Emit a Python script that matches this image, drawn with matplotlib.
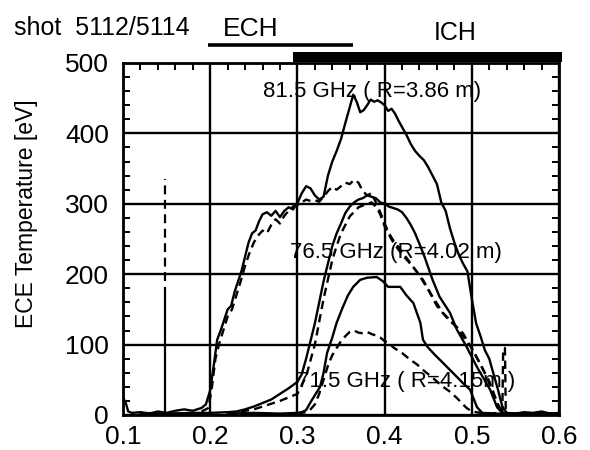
import matplotlib
matplotlib.use('Agg')
import matplotlib.pyplot as plt
from matplotlib.ticker import MultipleLocator
from matplotlib.patches import Rectangle

plt.rcParams['font.family'] = ['Liberation Sans', 'DejaVu Sans']

# ---------------- data (time [s], ECE temperature [eV]) ----------------
# 81.5 GHz, shot 5112 (solid)
t_a = [0.100, 0.103, 0.106, 0.110, 0.120, 0.130, 0.140, 0.150, 0.160, 0.170, 0.180, 0.190,
       0.195, 0.200, 0.204, 0.208, 0.212, 0.216, 0.220, 0.224, 0.228, 0.232, 0.236, 0.240,
       0.244, 0.248, 0.252, 0.256, 0.260, 0.265, 0.270, 0.275, 0.280, 0.285, 0.290, 0.295,
       0.300, 0.305, 0.310, 0.315, 0.320, 0.325, 0.330, 0.335, 0.340, 0.345, 0.350, 0.355,
       0.360, 0.364, 0.368, 0.372, 0.376, 0.380, 0.384, 0.388, 0.392, 0.396, 0.400, 0.404,
       0.408, 0.412, 0.416, 0.420, 0.425, 0.430, 0.435, 0.440, 0.445, 0.450, 0.455, 0.460,
       0.465, 0.470, 0.475, 0.480, 0.485, 0.490, 0.495, 0.500, 0.505, 0.510, 0.515, 0.520,
       0.525, 0.530, 0.535, 0.540, 0.550, 0.560, 0.570, 0.580, 0.590, 0.600]
v_a = [25, 18, 5, 3, 4, 2, 5, 3, 6, 8, 6, 10,
       15, 35, 70, 107, 120, 135, 150, 155, 175, 190, 205, 225,
       245, 258, 262, 275, 285, 288, 283, 290, 281, 290, 295, 292,
       301, 315, 325, 322, 312, 306, 310, 340, 360, 375, 392, 415,
       437, 455, 445, 430, 433, 440, 448, 445, 447, 444, 440, 432,
       435, 428, 418, 409, 398, 385, 375, 368, 362, 352, 340, 328,
       302, 290, 265, 245, 228, 215, 204, 165, 130, 112, 92, 80,
       58, 36, 12, 3, 2, 4, 3, 5, 2, 3]

# 81.5 GHz, shot 5114 (dashed)
t_b = [0.190, 0.198, 0.202, 0.206, 0.210, 0.215, 0.220, 0.225, 0.230, 0.235, 0.240, 0.245,
       0.250, 0.255, 0.260, 0.265, 0.270, 0.275, 0.280, 0.285, 0.290, 0.295, 0.300, 0.305,
       0.310, 0.315, 0.320, 0.325, 0.330, 0.335, 0.340, 0.345, 0.350, 0.355, 0.360, 0.365,
       0.370, 0.375, 0.380, 0.385, 0.390, 0.395, 0.400, 0.405, 0.410, 0.420, 0.430, 0.440,
       0.450, 0.460, 0.470, 0.480, 0.490, 0.500, 0.510, 0.520, 0.530, 0.535, 0.550, 0.600]
v_b = [5, 10, 40, 80, 100, 120, 140, 150, 170, 190, 212, 230,
       245, 255, 262, 258, 270, 278, 272, 283, 290, 296, 298, 302,
       306, 304, 305, 303, 310, 318, 324, 320, 325, 330, 328, 334,
       330, 318, 312, 315, 302, 288, 272, 258, 248, 232, 215, 198,
       178, 155, 140, 128, 112, 95, 72, 48, 15, 3, 2, 2]

# 76.5 GHz, shot 5112 (solid)
t_c = [0.120, 0.150, 0.180, 0.200, 0.220, 0.230, 0.240, 0.250, 0.260, 0.270, 0.280, 0.290,
       0.300, 0.305, 0.310, 0.315, 0.320, 0.325, 0.330, 0.335, 0.340, 0.345, 0.350, 0.355,
       0.360, 0.365, 0.370, 0.375, 0.380, 0.385, 0.390, 0.395, 0.400, 0.405, 0.410, 0.415,
       0.420, 0.425, 0.430, 0.435, 0.440, 0.446, 0.455, 0.463, 0.475, 0.483, 0.494, 0.506,
       0.521, 0.529, 0.535, 0.550, 0.600]
v_c = [3, 2, 3, 3, 4, 5, 8, 12, 17, 22, 30, 38,
       47, 58, 80, 105, 130, 160, 190, 215, 240, 258, 272, 287,
       296, 302, 306, 308, 312, 310, 308, 302, 300, 296, 294, 292,
       288, 280, 270, 258, 243, 224, 192, 168, 145, 121, 97, 68,
       36, 11, 3, 2, 2]

# 76.5 GHz, shot 5114 (dashed)
t_d = [0.220, 0.250, 0.280, 0.300, 0.310, 0.320, 0.330, 0.340, 0.345, 0.350, 0.360, 0.370,
       0.380, 0.385, 0.390, 0.395, 0.400, 0.405, 0.410, 0.420, 0.433, 0.444, 0.455, 0.467,
       0.478, 0.490, 0.501, 0.509, 0.517, 0.529, 0.535, 0.550, 0.600]
v_d = [2, 8, 20, 30, 55, 100, 165, 220, 240, 258, 282, 295,
       300, 302, 296, 285, 268, 256, 245, 228, 210, 192, 168, 145,
       131, 116, 92, 74, 54, 17, 3, 2, 2]

# 71.5 GHz, shot 5112 (solid)
t_e = [0.220, 0.250, 0.280, 0.300, 0.305, 0.310, 0.315, 0.320, 0.326, 0.330, 0.334, 0.340,
       0.345, 0.352, 0.358, 0.364, 0.372, 0.380, 0.391, 0.398, 0.404, 0.418, 0.425, 0.433,
       0.441, 0.444, 0.449, 0.458, 0.467, 0.475, 0.483, 0.490, 0.498, 0.506, 0.512, 0.530,
       0.600]
v_e = [2, 3, 2, 3, 4, 7, 18, 28, 40, 60, 88, 110,
       131, 153, 170, 182, 192, 195, 196, 190, 182, 182, 170, 159,
       131, 107, 97, 85, 74, 64, 54, 45, 36, 11, 3, 2,
       2]

# 71.5 GHz, shot 5114 (dashed)
t_f = [0.300, 0.310, 0.315, 0.320, 0.325, 0.330, 0.335, 0.340, 0.345, 0.350, 0.355, 0.360,
       0.365, 0.370, 0.375, 0.380, 0.385, 0.390, 0.395, 0.400, 0.405, 0.410, 0.415, 0.420,
       0.425, 0.430, 0.437, 0.445, 0.456, 0.465, 0.475, 0.483, 0.490, 0.494, 0.500, 0.510,
       0.520, 0.530, 0.535, 0.536, 0.538, 0.539, 0.550, 0.600]
v_f = [2, 4, 8, 15, 30, 50, 70, 85, 95, 105, 112, 118,
       120, 117, 116, 118, 115, 113, 110, 105, 102, 96, 92, 88,
       83, 78, 72, 63, 52, 42, 33, 24, 15, 10, 5, 3,
       2, 3, 2, 95, 95, 2, 2, 2]

# time marker (dashed upper part, solid lower part)
marker_t = 0.148
marker_dash_range = (190, 335)
marker_solid_range = (0, 180)

# heating periods
ech_period = (0.198, 0.364)
ich_period = (0.295, 0.603)

x_ticks = [0.1, 0.2, 0.3, 0.4, 0.5, 0.6]
x_tick_labels = ['0.1', '0.2', '0.3', '0.4', '0.5', '0.6']
y_ticks = [0, 100, 200, 300, 400, 500]

labels = ['81.5 GHz ( R=3.86 m)', '76.5 GHz (R=4.02 m)', '71.5 GHz ( R=4.15m )']
label_pos = [(0.260, 460), (0.291, 231), (0.299, 47)]

# ---------------- figure ----------------
W, H = 590, 450
fig = plt.figure(figsize=(W / 100, H / 100), dpi=100)
L, R, T, B = 123, 559, 63, 415
ax = fig.add_axes([L / W, 1 - B / H, (R - L) / W, (B - T) / H])

ax.set_xlim(0.1, 0.6)
ax.set_ylim(0, 500)
ax.set_xticks(x_ticks)
ax.set_xticklabels(x_tick_labels)
ax.set_yticks(y_ticks)
ax.xaxis.set_minor_locator(MultipleLocator(0.02))
ax.yaxis.set_minor_locator(MultipleLocator(20))
ax.grid(True, which='major', color='black', lw=1.7)
ax.set_axisbelow(True)
ax.tick_params(which='major', length=0, labelsize=19)
ax.tick_params(axis='y', which='major', pad=10)
ax.tick_params(axis='x', which='major', pad=7)
ax.tick_params(which='minor', direction='in', length=5, width=1.4,
               top=True, right=True, bottom=False, left=True)
for s in ax.spines.values():
    s.set_linewidth(2.0)

for txt, (x, y) in zip(labels, label_pos):
    ax.text(x, y, txt, fontsize=16, ha='left', va='center', zorder=2)

lw = 1.7
dash = (0, (3.5, 2.2))
ax.plot(t_a, v_a, color='black', lw=lw, zorder=3)
ax.plot(t_b, v_b, color='black', lw=lw, ls=dash, zorder=3)
ax.plot(t_c, v_c, color='black', lw=lw, zorder=3)
ax.plot(t_d, v_d, color='black', lw=lw, ls=dash, zorder=3)
ax.plot(t_e, v_e, color='black', lw=lw, zorder=3)
ax.plot(t_f, v_f, color='black', lw=lw, ls=dash, zorder=3)

ax.plot([marker_t, marker_t], marker_dash_range, color='black', lw=1.6,
        ls=(0, (4, 2.5)), zorder=3)
ax.plot([marker_t, marker_t], marker_solid_range, color='black', lw=1.6, zorder=3)

# heating bars
ax.plot(ech_period, [526, 526], color='black', lw=2.6, clip_on=False,
        solid_capstyle='butt')
ax.add_patch(Rectangle((ich_period[0], 502), ich_period[1] - ich_period[0], 13,
                       color='black', clip_on=False, lw=0))

fig.text(27 / W, 1 - 214 / H, 'ECE Temperature [eV]', fontsize=16.5,
         rotation=90, ha='center', va='center')

fig.text(14 / W, 1 - 28 / H, 'shot  5112/5114', fontsize=18, ha='left', va='center')
fig.text(251 / W, 1 - 29 / H, 'ECH', fontsize=19, ha='center', va='center')
fig.text(455 / W, 1 - 33 / H, 'ICH', fontsize=18, ha='center', va='center')

fig.savefig('out.png', dpi=100)
